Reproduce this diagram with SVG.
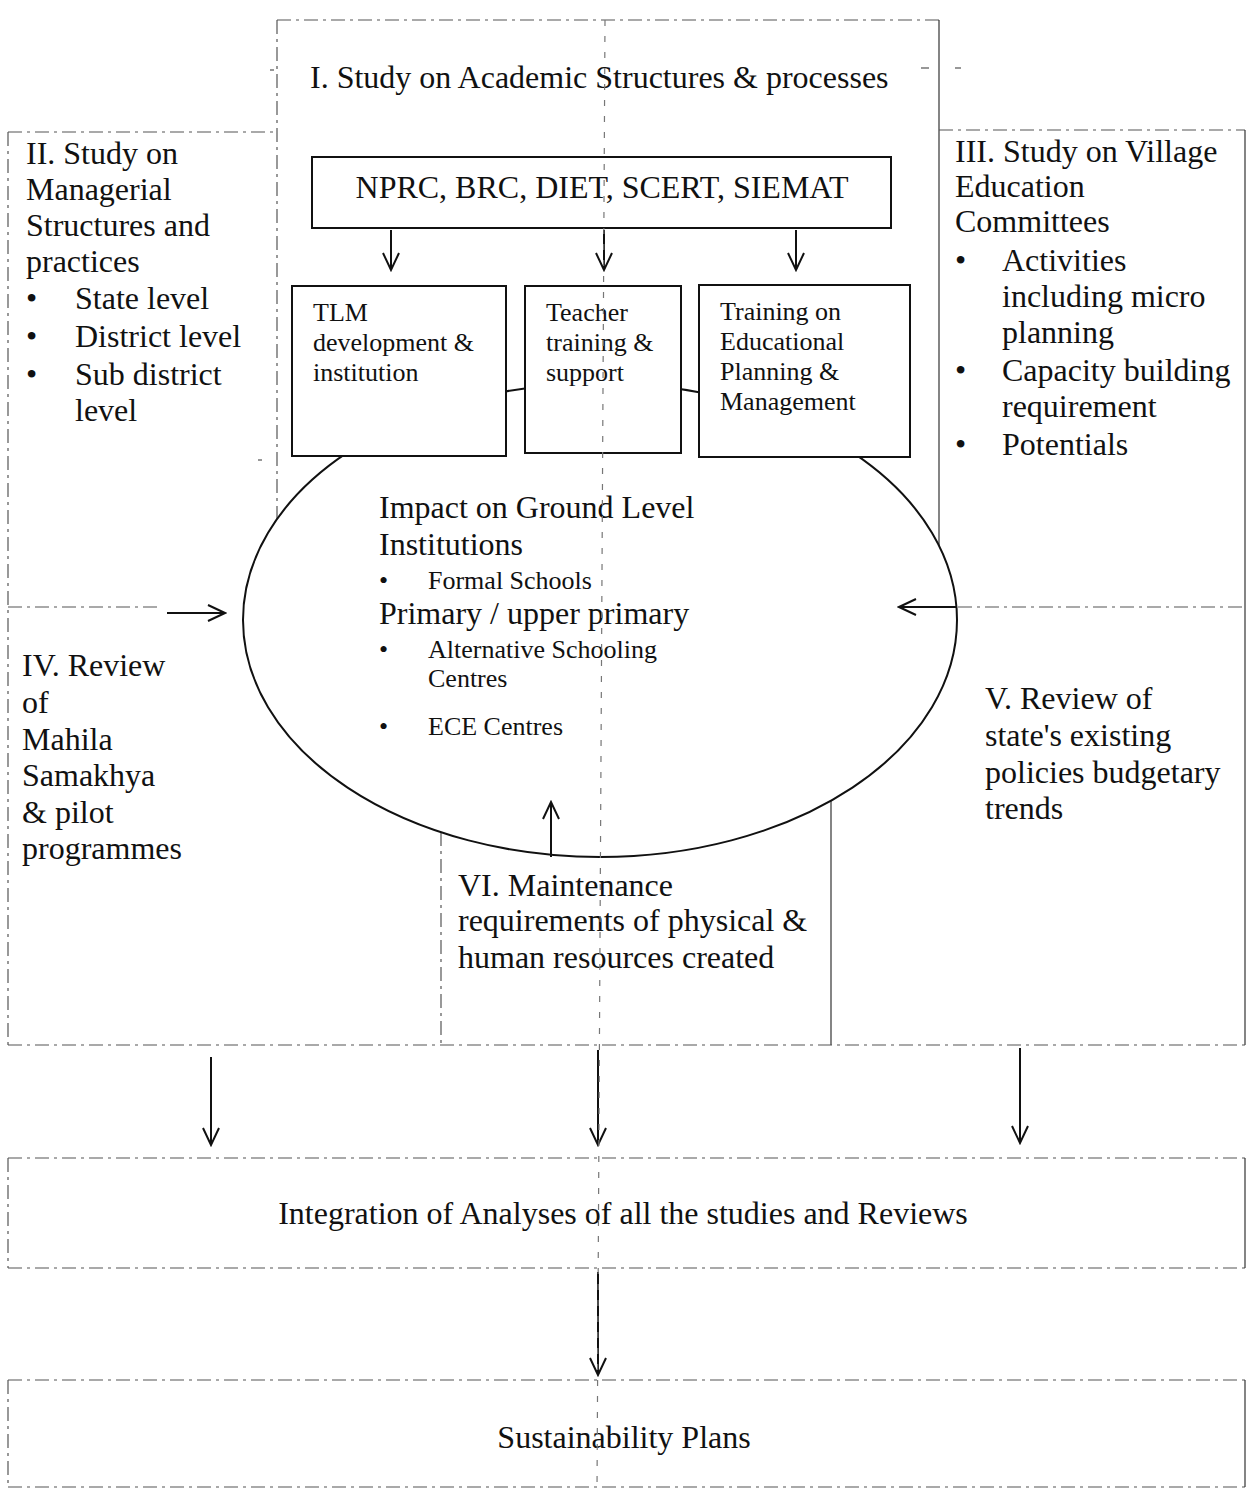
<svg xmlns="http://www.w3.org/2000/svg" width="1249" height="1491" viewBox="0 0 1249 1491">
<style>
text{font-family:"Liberation Serif","Times New Roman",serif;fill:#111}
.big{font-size:32px}
.mid{font-size:26px}
.sm{font-size:26px}
.dash{fill:none;stroke:#555;stroke-width:1.2;stroke-dasharray:14 5 3 5}
.thin{fill:none;stroke:#333;stroke-width:1.2}
.box{fill:#fff;stroke:#111;stroke-width:2}
.arr{fill:none;stroke:#111;stroke-width:2;marker-end:url(#v)}
.fold{fill:none;stroke:#777;stroke-width:1.2;stroke-dasharray:6 10}
</style>
<defs>
<marker id="v" markerUnits="userSpaceOnUse" markerWidth="20" markerHeight="34" refX="18" refY="9" orient="auto">
<path d="M1,1 L18,9 L1,17" fill="none" stroke="#111" stroke-width="2"/>
</marker>
</defs>
<rect width="1249" height="1491" fill="#fff"/>

<g id="frame">
<path class="dash" d="M277,20 H939"/>
<path class="dash" d="M277,20 V519"/>
<path class="thin" d="M939,20 V546"/>
<path class="dash" d="M8,132 H277"/>
<path class="dash" d="M8,132 V1045"/>
<path class="dash" d="M939,130 H1245"/>
<path class="thin" d="M1245,130 V1045"/>
<path class="dash" d="M8,607 H160"/>
<path class="dash" d="M958,607 H1245"/>
<path class="dash" d="M441,832 V1045"/>
<path class="thin" d="M831,801 V1045"/>
<path class="dash" d="M8,1045 H1245"/>
<path class="thin" d="M270,70 h4 M921,68 h8 M955,68 h6 M258,460 h4"/>
</g>

<g id="node-I">
<text class="big" x="310" y="88">I. Study on Academic Structures &amp; processes</text>
</g>

<g id="node-II">
<text class="big" x="26" y="164">II. Study on</text>
<text class="big" x="26" y="200">Managerial</text>
<text class="big" x="26" y="236">Structures and</text>
<text class="big" x="26" y="272">practices</text>
<text class="big" x="26" y="309">•</text><text class="big" x="75" y="309">State level</text>
<text class="big" x="26" y="347">•</text><text class="big" x="75" y="347">District level</text>
<text class="big" x="26" y="385">•</text><text class="big" x="75" y="385">Sub district</text>
<text class="big" x="75" y="421">level</text>
</g>

<g id="node-III">
<text class="big" x="955" y="162">III. Study on Village</text>
<text class="big" x="955" y="197">Education</text>
<text class="big" x="955" y="232">Committees</text>
<text class="big" x="955" y="271">•</text><text class="big" x="1002" y="271">Activities</text>
<text class="big" x="1002" y="307">including micro</text>
<text class="big" x="1002" y="343">planning</text>
<text class="big" x="955" y="381">•</text><text class="big" x="1002" y="381">Capacity building</text>
<text class="big" x="1002" y="417">requirement</text>
<text class="big" x="955" y="455">•</text><text class="big" x="1002" y="455">Potentials</text>
</g>

<g id="node-impact">
<ellipse cx="600" cy="620" rx="357" ry="237" fill="#fff" stroke="#111" stroke-width="2"/>
<text class="big" x="379" y="518">Impact on Ground Level</text>
<text class="big" x="379" y="555">Institutions</text>
<text class="sm" x="379" y="589">•</text><text class="sm" x="428" y="589">Formal Schools</text>
<text class="big" x="379" y="624">Primary / upper primary</text>
<text class="sm" x="379" y="658">•</text><text class="sm" x="428" y="658">Alternative Schooling</text>
<text class="sm" x="428" y="687">Centres</text>
<text class="sm" x="379" y="735">•</text><text class="sm" x="428" y="735">ECE Centres</text>
</g>

<g id="node-nprc">
<rect class="box" x="312" y="157" width="579" height="71"/>
<text class="big" x="602" y="198" text-anchor="middle">NPRC, BRC, DIET, SCERT, SIEMAT</text>
</g>

<g id="node-tlm">
<rect class="box" x="292" y="286" width="214" height="170"/>
<text class="mid" x="313" y="321">TLM</text>
<text class="mid" x="313" y="351">development &amp;</text>
<text class="mid" x="313" y="381">institution</text>
</g>

<g id="node-teacher">
<rect class="box" x="525" y="286" width="156" height="167"/>
<text class="mid" x="546" y="321">Teacher</text>
<text class="mid" x="546" y="351">training &amp;</text>
<text class="mid" x="546" y="381">support</text>
</g>

<g id="node-training">
<rect class="box" x="699" y="285" width="211" height="172"/>
<text class="mid" x="720" y="320">Training on</text>
<text class="mid" x="720" y="350">Educational</text>
<text class="mid" x="720" y="380">Planning &amp;</text>
<text class="mid" x="720" y="410">Management</text>
</g>

<g id="node-IV">
<text class="big" x="22" y="676">IV. Review</text>
<text class="big" x="22" y="713">of</text>
<text class="big" x="22" y="750">Mahila</text>
<text class="big" x="22" y="786">Samakhya</text>
<text class="big" x="22" y="823">&amp; pilot</text>
<text class="big" x="22" y="859">programmes</text>
</g>

<g id="node-V">
<text class="big" x="985" y="709">V. Review of</text>
<text class="big" x="985" y="746">state's existing</text>
<text class="big" x="985" y="783">policies budgetary</text>
<text class="big" x="985" y="819">trends</text>
</g>

<g id="node-VI">
<text class="big" x="458" y="896">VI. Maintenance</text>
<text class="big" x="458" y="931">requirements of physical &amp;</text>
<text class="big" x="458" y="968">human resources created</text>
</g>

<g id="node-integration">
<path class="dash" d="M8,1158 H1245 M8,1268 H1245 M8,1158 V1268"/>
<path class="thin" d="M1245,1158 V1268"/>
<text class="big" x="623" y="1224" text-anchor="middle">Integration of Analyses of all the studies and Reviews</text>
</g>

<g id="node-sustainability">
<path class="dash" d="M8,1380 H1245 M8,1487 H1245 M8,1380 V1487"/>
<path class="thin" d="M1245,1380 V1487"/>
<text class="big" x="624" y="1448" text-anchor="middle">Sustainability Plans</text>
</g>

<g id="connectors">
<path class="arr" d="M391,230 V270"/>
<path class="arr" d="M604,230 V270"/>
<path class="arr" d="M796,230 V270"/>
<path class="arr" d="M167,613 H225"/>
<path class="arr" d="M957,607 H899"/>
<path class="arr" d="M551,857 V802"/>
<path class="arr" d="M211,1057 V1145"/>
<path class="arr" d="M598,1050 V1145"/>
<path class="arr" d="M1020,1048 V1143"/>
<path class="arr" d="M598,1272 V1375"/>
</g>

<path class="fold" d="M605,20 L597,1490"/>
</svg>
